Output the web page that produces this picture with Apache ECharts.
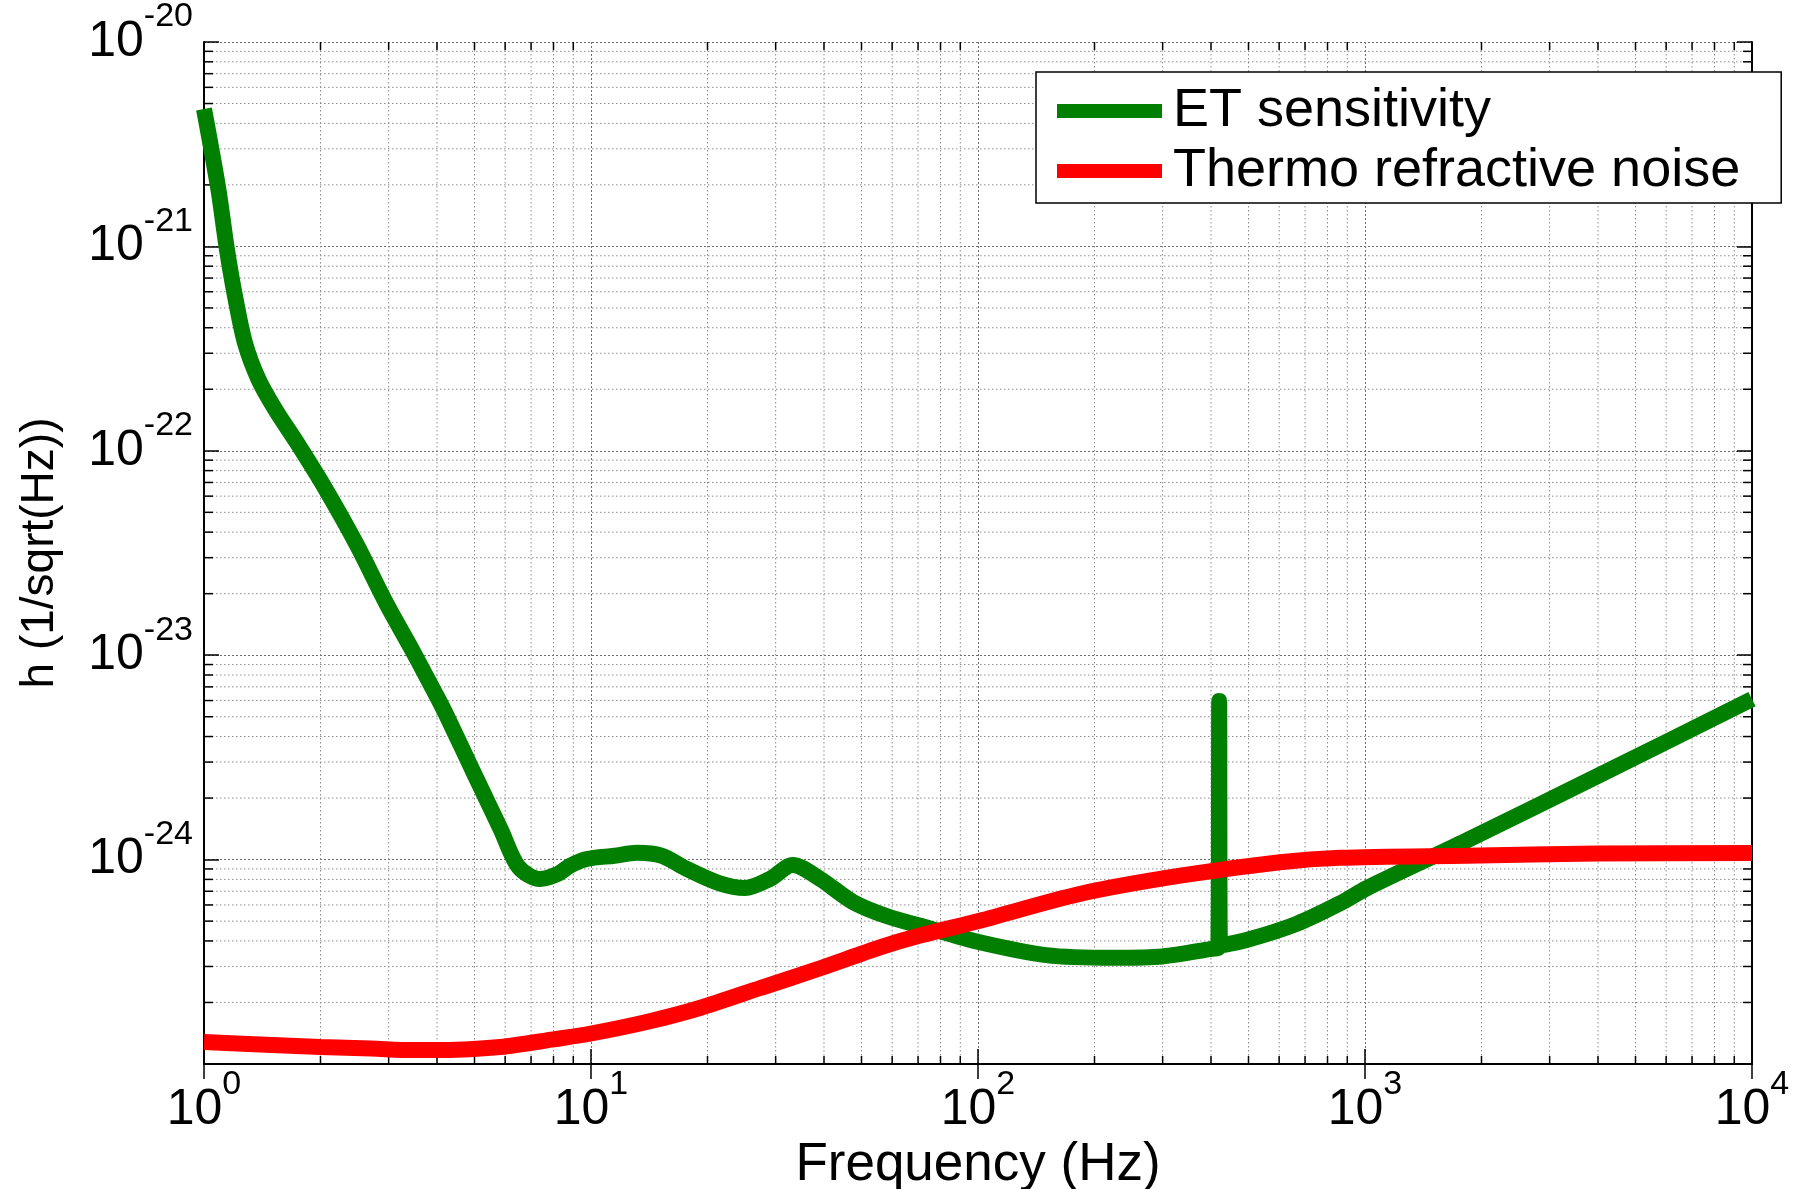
<!DOCTYPE html>
<html>
<head>
<meta charset="utf-8">
<title>ET sensitivity</title>
<script src="https://cdn.jsdelivr.net/npm/echarts@6/dist/echarts.min.js"></script>
<style>
  html, body { margin: 0; padding: 0; background: #fff; }
  #chart { width: 1799px; height: 1189px; }
</style>
</head>
<body>
<div id="chart"></div>
<script>
// ET sensitivity (Hz, 1/sqrt(Hz))
const etFreq = [1, 1.089, 1.145, 1.202, 1.276, 1.381, 1.526, 1.736, 2.034, 2.482, 2.964, 3.47, 4.03, 4.25,
  5.08, 5.85, 6.5, 7.38, 8.2, 8.83, 9.75, 11.5, 13.15, 15.2, 17.7, 21.5, 25, 29, 33.2, 39.1, 47.5, 58,
  75, 101, 150, 224, 300, 398, 418, 420, 422, 494, 666, 861, 1010, 1830, 4050, 10000];
const etStrain = [4.7e-21, 1.91e-21, 9.8e-22, 5.74e-22, 3.37e-22, 2.25e-22, 1.6e-22, 1.1e-22, 6.78e-23, 3.47e-23, 1.78e-23, 1.04e-23, 6.1e-24, 5.0e-24,
  2.45e-24, 1.4e-24, 9.2e-25, 8.04e-25, 8.5e-25, 9.33e-25, 1.007e-24, 1.045e-24, 1.08e-24, 1.045e-24, 8.99e-25, 7.65e-25, 7.26e-25, 8.04e-25, 9.41e-25, 8.04e-25, 6.21e-25, 5.3e-25,
  4.61e-25, 3.94e-25, 3.41e-25, 3.31e-25, 3.36e-25, 3.65e-25, 3.72e-25, 5.97e-24, 3.8e-25, 4.04e-25, 4.85e-25, 6.1e-25, 7.24e-25, 1.24e-24, 2.6e-24, 6.1e-24];

// thermo refractive noise
const trnFreq = [1, 1.5, 2, 2.7, 3.47, 4.5, 5.82, 8, 10, 14, 19.1, 27.5, 39.1, 55.8, 70.8, 101, 183, 333, 603, 861, 1830, 4000, 10000];
const trnStrain = [1.28e-25, 1.24e-25, 1.21e-25, 1.19e-25, 1.17e-25, 1.175e-25, 1.21e-25, 1.32e-25, 1.41e-25, 1.61e-25, 1.88e-25, 2.36e-25, 2.94e-25, 3.72e-25, 4.25e-25, 5.02e-25, 6.79e-25, 8.34e-25, 9.7e-25, 1.02e-24, 1.045e-24, 1.07e-24, 1.077e-24];

// axis ranges and minor ticks (log scale)
const xRange = [1, 10000];
const yRange = [1e-25, 1e-20];
const minorSteps = [2, 3, 4, 5, 6, 7, 8, 9];
const xDecades = [1, 10, 100, 1000];
const yDecades = [1e-25, 1e-24, 1e-23, 1e-22, 1e-21];

const xMinor = [];
xDecades.forEach((d) => minorSteps.forEach((m) => xMinor.push(m * d)));
const yMinor = [];
yDecades.forEach((d) => minorSteps.forEach((m) => yMinor.push(m * d)));

const GREEN = "#007f00";
const RED = "#ff0000";
const FONT = '"Liberation Sans", Arial, sans-serif';

const chart = echarts.init(document.getElementById("chart"), null, { renderer: "canvas" });

// 10 with a raised exponent; the tall "10" line sets the box, the exponent sits at its top
const tickLabel = {
  formatter: (v) => "{b|10}{s|" + Math.round(Math.log10(v)) + "}",
  rich: {
    b: { fontFamily: FONT, fontSize: 50, lineHeight: 84, color: "#000" },
    s: { fontFamily: FONT, fontSize: 34, lineHeight: 41, color: "#000", verticalAlign: "top" },
  },
};

const minorStyle = { stroke: "#8c8c8c", lineWidth: 1, lineDash: [1.5, 2.5] };
const tickStyle = { stroke: "#000", lineWidth: 1.5 };

function renderXMinor(params, api) {
  const cs = params.coordSys;
  const x = api.coord([api.value(0), api.value(1)])[0];
  const bottom = cs.y + cs.height;
  return {
    type: "group",
    children: [
      { type: "line", shape: { x1: x, y1: cs.y, x2: x, y2: bottom }, style: minorStyle },
      { type: "line", shape: { x1: x, y1: bottom, x2: x, y2: bottom - 8 }, style: tickStyle },
      { type: "line", shape: { x1: x, y1: cs.y, x2: x, y2: cs.y + 8 }, style: tickStyle },
    ],
  };
}

function renderYMinor(params, api) {
  const cs = params.coordSys;
  const y = api.coord([api.value(0), api.value(1)])[1];
  const right = cs.x + cs.width;
  return {
    type: "group",
    children: [
      { type: "line", shape: { x1: cs.x, y1: y, x2: right, y2: y }, style: minorStyle },
      { type: "line", shape: { x1: cs.x, y1: y, x2: cs.x + 9, y2: y }, style: tickStyle },
      { type: "line", shape: { x1: right, y1: y, x2: right - 9, y2: y }, style: tickStyle },
    ],
  };
}

const majorSplit = { show: true, lineStyle: { color: "#6e6e6e", width: 1, type: [2, 2] } };
const boxLine = { show: true, lineStyle: { color: "#000", width: 2 } };
const majorTick = { show: true, inside: true, length: 15, lineStyle: { color: "#000", width: 1.5 } };

const option = {
  backgroundColor: "#fff",
  animation: false,
  grid: { left: 204, right: 47, top: 42, bottom: 125, containLabel: false, outerBoundsMode: "none" },
  legend: {
    data: ["ET sensitivity", "Thermo refractive noise"],
    orient: "vertical",
    left: 1036,
    top: 72,
    padding: [12, 41, 5, 21],
    itemGap: 6,
    itemWidth: 105,
    itemHeight: 14,
    icon: "rect",
    backgroundColor: "#fff",
    borderColor: "#000",
    borderWidth: 1.5,
    borderRadius: 0,
    textStyle: {
      fontFamily: FONT,
      fontSize: 54,
      lineHeight: 50,
      color: "#000",
      padding: [0, 0, 0, 6],
    },
  },
  xAxis: [
    {
      type: "log",
      logBase: 10,
      min: xRange[0],
      max: xRange[1],
      position: "bottom",
      name: "Frequency (Hz)",
      nameLocation: "middle",
      nameGap: 75,
      nameMoveOverlap: false,
      nameTextStyle: { fontFamily: FONT, fontSize: 53, color: "#000" },
      axisLine: boxLine,
      axisTick: majorTick,
      axisLabel: Object.assign({ margin: 4 }, tickLabel),
      splitLine: majorSplit,
    },
    {
      type: "log",
      logBase: 10,
      min: xRange[0],
      max: xRange[1],
      position: "top",
      axisLine: boxLine,
      axisTick: majorTick,
      axisLabel: { show: false },
      splitLine: { show: false },
    },
  ],
  yAxis: [
    {
      type: "log",
      logBase: 10,
      min: yRange[0],
      max: yRange[1],
      position: "left",
      name: "h (1/sqrt(Hz))",
      nameLocation: "middle",
      nameGap: 141,
      nameRotate: 90,
      nameMoveOverlap: false,
      nameTextStyle: { fontFamily: FONT, fontSize: 46, color: "#000" },
      axisLine: boxLine,
      axisTick: majorTick,
      axisLabel: Object.assign({ margin: 11 }, tickLabel),
      splitLine: majorSplit,
    },
    {
      type: "log",
      logBase: 10,
      min: yRange[0],
      max: yRange[1],
      position: "right",
      axisLine: boxLine,
      axisTick: majorTick,
      axisLabel: { show: false },
      splitLine: { show: false },
    },
  ],
  series: [
    {
      type: "custom",
      name: "xminor",
      silent: true,
      z: 1,
      renderItem: renderXMinor,
      data: xMinor.map((v) => [v, yRange[0]]),
    },
    {
      type: "custom",
      name: "yminor",
      silent: true,
      z: 1,
      renderItem: renderYMinor,
      data: yMinor.map((v) => [xRange[0], v]),
    },
    {
      name: "ET sensitivity",
      type: "line",
      data: etFreq.map((f, i) => [f, etStrain[i]]),
      symbol: "none",
      smooth: 0.3,
      lineStyle: { color: GREEN, width: 16 },
      itemStyle: { color: GREEN },
      z: 3,
    },
    {
      name: "Thermo refractive noise",
      type: "line",
      data: trnFreq.map((f, i) => [f, trnStrain[i]]),
      symbol: "none",
      smooth: 0.3,
      lineStyle: { color: RED, width: 16 },
      itemStyle: { color: RED },
      z: 3,
    },
  ],
};

chart.setOption(option);
window.addEventListener("resize", () => chart.resize());
</script>
</body>
</html>
